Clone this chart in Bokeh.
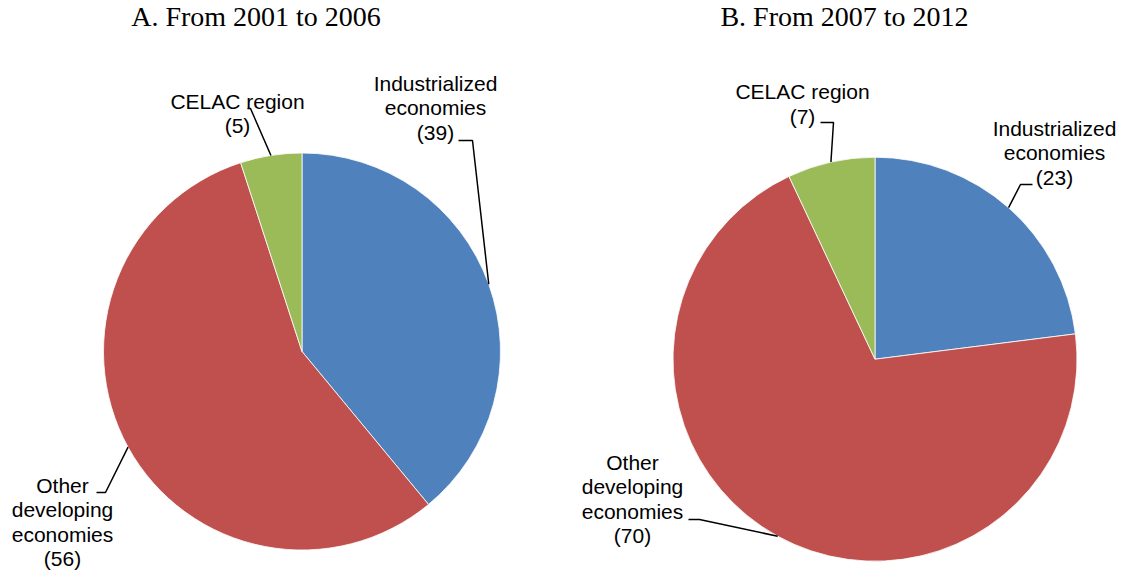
import math
from bokeh.plotting import figure
from bokeh.models import Range1d, ColumnDataSource
from bokeh.core.properties import value
from bokeh.embed import file_html
from bokeh.resources import INLINE

# ---------------- data ----------------
categories = ["Industrialized economies", "Other developing economies", "CELAC region"]
label_lines = [["Industrialized", "economies"], ["Other", "developing", "economies"], ["CELAC region"]]
share_2001_2006 = [39, 56, 5]
share_2007_2012 = [23, 70, 7]
panel_titles = ["A. From 2001 to 2006", "B. From 2007 to 2012"]
colors = ["#4F81BD", "#C0504D", "#9BBB59"]

# ---------------- layout (image pixel coords) ----------------
W, H = 1121, 573
PAGE_H = 573
LABEL_FS = 21
TITLE_FS = 28
BASE_FIX = 0.385  # renderer places alphabetic baseline this many em lower


def ty(y):
    return PAGE_H - y


panels = [
    dict(values=share_2001_2006, cx=301.5, cy=351.0, r=198.5, title_x=255.5,
         # per category: (text center x, first baseline y, leader start, elbow)
         labels=[(435, 91, (458, 140), (472, 140)),
                 (62, 493, (96, 492), (105, 492)),
                 (237, 109, (247, 108), (250, 108))]),
    dict(values=share_2007_2012, cx=874.5, cy=358.7, r=202.0, title_x=844,
         labels=[(1054, 136, (1032, 184), (1020, 184)),
                 (632, 470, (688, 519), (699, 519)),
                 (802, 99.5, (820, 122), (833, 122))]),
]
LINE_STEP = 24.3

p = figure(width=W, height=H, x_range=Range1d(0, W), y_range=Range1d(ty(H), ty(0)),
           output_backend="svg", toolbar_location=None, x_axis_type=None, y_axis_type=None,
           min_border=0, outline_line_color=None)
p.grid.visible = False
p.background_fill_color = "white"
p.border_fill_color = "white"

for idx, panel in enumerate(panels):
    vals = panel["values"]
    total = float(sum(vals))
    fr = [v / total for v in vals]
    cum = [0.0]
    for f in fr:
        cum.append(cum[-1] + f)
    starts = [math.pi / 2 - 2 * math.pi * cum[i] for i in range(len(vals))]
    ends = [math.pi / 2 - 2 * math.pi * cum[i + 1] for i in range(len(vals))]
    src = ColumnDataSource(dict(x=[panel["cx"]] * len(vals), y=[ty(panel["cy"])] * len(vals),
                                start=starts, end=ends, color=colors, cat=categories))
    p.wedge(x="x", y="y", radius=panel["r"], start_angle="start", end_angle="end",
            direction="clock", fill_color="color", line_color="white", line_width=0.8,
            source=src)

    # title
    p.text(x=[panel["title_x"]], y=[ty(27 - BASE_FIX * TITLE_FS)], text=[panel_titles[idx]],
           text_font=value("Liberation Serif"), text_font_size=value("%dpx" % TITLE_FS),
           text_align="center", text_baseline="alphabetic", text_color="black")

    # labels + leader lines
    for i, (tx, by, start, elbow) in enumerate(panel["labels"]):
        lines = label_lines[i] + ["(%d)" % vals[i]]
        xs = [tx] * len(lines)
        ys = [ty(by - BASE_FIX * LABEL_FS + k * LINE_STEP) for k in range(len(lines))]
        p.text(x=xs, y=ys, text=lines, text_font=value("Liberation Sans"),
               text_font_size=value("%dpx" % LABEL_FS), text_align="center",
               text_baseline="alphabetic", text_color="black")
        mid = (cum[i] + cum[i + 1]) / 2
        ang = math.pi / 2 - 2 * math.pi * mid
        ex = panel["cx"] + panel["r"] * math.cos(ang)
        ey = ty(panel["cy"]) + panel["r"] * math.sin(ang)
        p.line(x=[start[0], elbow[0], ex], y=[ty(start[1]), ty(elbow[1]), ey],
               line_color="black", line_width=1.5)

open("out.html", "w").write(file_html(p, INLINE))
